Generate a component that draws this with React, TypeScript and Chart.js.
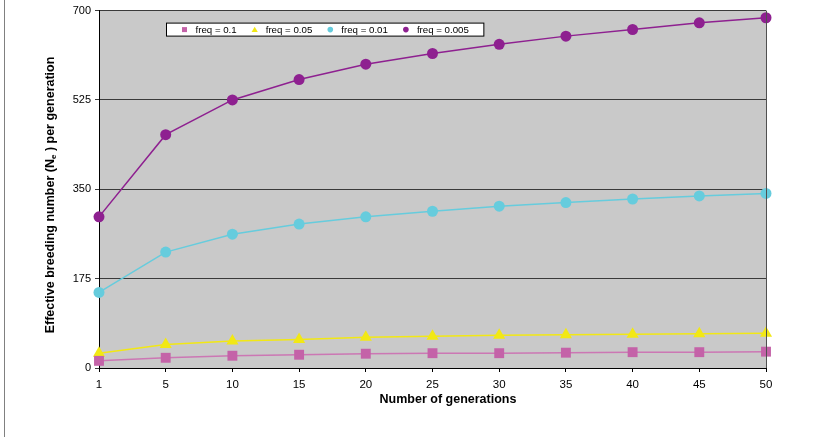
import React, { useEffect, useRef } from 'react';
import { Chart, registerables } from 'chart.js';

Chart.register(...registerables);

const generations = ['1', '5', '10', '15', '20', '25', '30', '35', '40', '45', '50'];
const freq01 = [14, 20, 24, 26, 28, 29, 29, 30, 31, 31, 32];
const freq005 = [29, 46, 53, 56, 60, 62, 64, 65, 66, 67, 68];
const freq001 = [148, 227, 262, 282, 296, 307, 317, 324, 331, 337, 342];
const freq0005 = [296, 457, 525, 565, 595, 616, 634, 650, 663, 676, 686];
const yTicks = [0, 175, 350, 525, 700];
const seriesLabels = ['freq = 0.1', 'freq = 0.05', 'freq = 0.01', 'freq = 0.005'];
const xTitle = 'Number of generations';
const yTitleParts = ['Effective breeding number (N', 'e', ' ) per generation'];

const FONT = 'Arial, "Liberation Sans", sans-serif';

function drawMarker(ctx: CanvasRenderingContext2D, style: string, x: number, y: number, r: number, color: string) {
  ctx.save();
  ctx.fillStyle = color;
  ctx.beginPath();
  if (style === 'rect') {
    ctx.rect(x - r, y - r, 2 * r, 2 * r);
  } else if (style === 'triangle') {
    ctx.moveTo(x, y - r * 1.1);
    ctx.lineTo(x + r * 1.2, y + r * 0.9);
    ctx.lineTo(x - r * 1.2, y + r * 0.9);
    ctx.closePath();
  } else {
    ctx.arc(x, y, r, 0, Math.PI * 2);
  }
  ctx.fill();
  ctx.restore();
}

const decorPlugin = {
  id: 'decor',
  beforeDraw(chart: any) {
    const { ctx, chartArea: a } = chart;
    ctx.save();
    ctx.fillStyle = '#ffffff';
    ctx.fillRect(0, 0, chart.width, chart.height);
    ctx.fillStyle = '#C9C9C9';
    ctx.fillRect(a.left, a.top, a.right - a.left, a.bottom - a.top);
    ctx.fillStyle = '#808080';
    ctx.fillRect(4, 0, 1, chart.height);
    ctx.restore();
  },
  afterDraw(chart: any) {
    const { ctx, chartArea: a } = chart;
    ctx.save();
    ctx.strokeStyle = '#505050';
    ctx.lineWidth = 1;
    ctx.beginPath();
    ctx.moveTo(Math.round(a.right) + 0.5, a.top);
    ctx.lineTo(Math.round(a.right) + 0.5, a.bottom);
    ctx.stroke();

    // x title
    ctx.fillStyle = '#000';
    ctx.font = `bold 12.5px ${FONT}`;
    ctx.textAlign = 'center';
    ctx.textBaseline = 'middle';
    ctx.fillText(xTitle, 448, 400);

    // y title with subscript
    ctx.save();
    ctx.translate(51, 195);
    ctx.rotate(-Math.PI / 2);
    ctx.textAlign = 'left';
    ctx.textBaseline = 'middle';
    const mainFont = `bold 12.5px ${FONT}`;
    const subFont = `bold 8px ${FONT}`;
    ctx.font = mainFont;
    const w1 = ctx.measureText(yTitleParts[0]).width;
    const w3 = ctx.measureText(yTitleParts[2]).width;
    ctx.font = subFont;
    const w2 = ctx.measureText(yTitleParts[1]).width;
    let cx = -(w1 + w2 + w3) / 2;
    ctx.font = mainFont;
    ctx.fillText(yTitleParts[0], cx, 0);
    cx += w1;
    ctx.font = subFont;
    ctx.fillText(yTitleParts[1], cx, 3);
    cx += w2;
    ctx.font = mainFont;
    ctx.fillText(yTitleParts[2], cx, 0);
    ctx.restore();

    // legend
    const datasets = chart.data.datasets;
    ctx.font = `9.7px ${FONT}`;
    const boxLeft = a.left + 67.5;
    const boxTop = a.top + 12.5;
    const boxH = 13;
    let cursor = boxLeft + 18;
    const items: any[] = [];
    datasets.forEach((ds: any) => {
      const tw = ctx.measureText(ds.label).width;
      items.push({ mx: cursor, tx: cursor + 11, tw, ds });
      cursor = cursor + 11 + tw + 18;
    });
    const boxRight = items[items.length - 1].tx + items[items.length - 1].tw + 15;
    ctx.fillStyle = '#ffffff';
    ctx.fillRect(boxLeft, boxTop, boxRight - boxLeft, boxH);
    ctx.strokeStyle = '#000';
    ctx.lineWidth = 1;
    ctx.strokeRect(boxLeft, boxTop, boxRight - boxLeft, boxH);
    const cy = boxTop + boxH / 2;
    items.forEach((it) => {
      const st = it.ds.pointStyle;
      drawMarker(ctx, st, it.mx, cy, st === 'rect' ? 2.5 : st === 'triangle' ? 2.6 : 2.8, it.ds.backgroundColor);
      ctx.fillStyle = '#000';
      ctx.textAlign = 'left';
      ctx.textBaseline = 'middle';
      ctx.fillText(it.ds.label, it.tx, cy + 0.5);
    });
    ctx.restore();
  },
};

export default function App() {
  const canvasRef = useRef<HTMLCanvasElement | null>(null);

  useEffect(() => {
    const canvas = canvasRef.current;
    if (!canvas) return;
    const mk = (label: string, data: number[], color: string, lineColor: string, style: string, r: number) => ({
      label,
      data,
      borderColor: lineColor,
      backgroundColor: color,
      pointBackgroundColor: color,
      pointBorderColor: color,
      pointStyle: style,
      pointRadius: r,
      pointBorderWidth: 0,
      borderWidth: 1.5,
      tension: 0,
      fill: false,
      clip: false as any,
    });
    const chart = new Chart(canvas, {
      type: 'line',
      data: {
        labels: generations,
        datasets: [
          mk(seriesLabels[0], freq01, '#C462A8', '#CC77B4', 'rect', 7),
          mk(seriesLabels[1], freq005, '#F2E814', '#F2E814', 'triangle', 7),
          mk(seriesLabels[2], freq001, '#66CCDD', '#66CCDD', 'circle', 5.5),
          mk(seriesLabels[3], freq0005, '#8E2090', '#8E2090', 'circle', 5.5),
        ],
      },
      options: {
        animation: false,
        responsive: false,
        devicePixelRatio: 1,
        layout: { padding: { top: 10, right: 47, left: 0, bottom: 0 } },
        plugins: {
          legend: { display: false },
          tooltip: { enabled: false },
        },
        scales: {
          x: {
            type: 'category',
            offset: false,
            grid: { display: true, drawOnChartArea: false, drawTicks: true, tickLength: 4, color: '#000' },
            border: { color: '#000', width: 1 },
            ticks: { color: '#000', font: { family: FONT, size: 11.5 }, padding: 6, maxRotation: 0, autoSkip: false },
            afterFit: (s: any) => { s.height = 69; },
          },
          y: {
            min: 0,
            max: 700,
            afterBuildTicks: (s: any) => { s.ticks = yTicks.map((v) => ({ value: v })); },
            grid: { color: '#3a3a3a', lineWidth: 1, tickLength: 4, drawTicks: true },
            border: { color: '#000', width: 1 },
            ticks: { color: '#000', font: { family: FONT, size: 11 }, padding: 4 },
            afterFit: (s: any) => { s.width = 99; },
          },
        },
      } as any,
      plugins: [decorPlugin],
    });
    return () => chart.destroy();
  }, []);

  return (
    <div style={{ position: 'fixed', left: 0, top: 0, width: 813, height: 437 }}>
      <canvas ref={canvasRef} width={813} height={437} style={{ display: 'block' }} />
    </div>
  );
}
